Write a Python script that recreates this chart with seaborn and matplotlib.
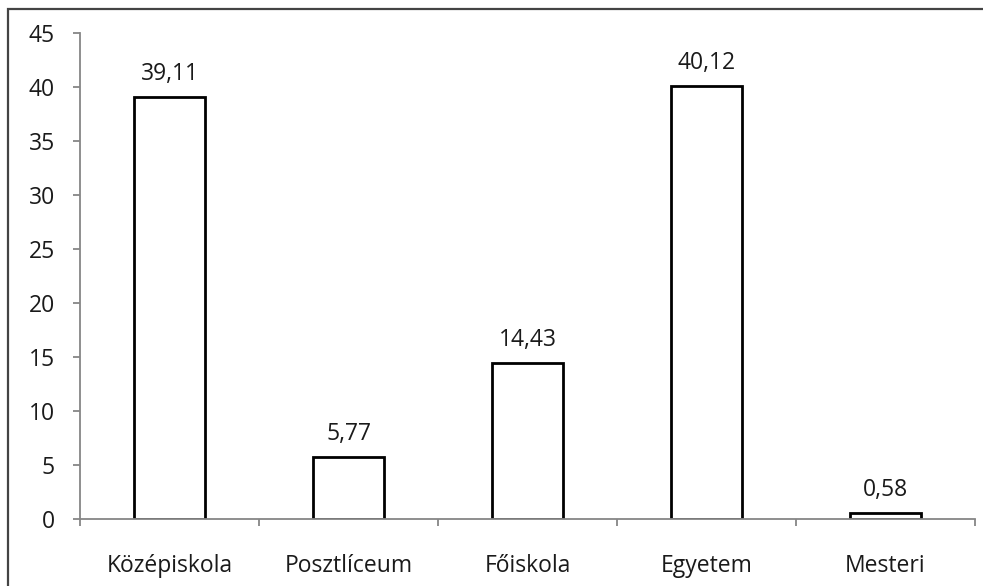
import matplotlib
matplotlib.use("Agg")
import matplotlib.pyplot as plt
import seaborn as sns
import pandas as pd
from matplotlib.patches import Rectangle

categories = ["Középiskola", "Posztlíceum", "Főiskola", "Egyetem", "Mesteri"]
values = [39.11, 5.77, 14.43, 40.12, 0.58]
value_labels = ["39,11", "5,77", "14,43", "40,12", "0,58"]
yticks = [0, 5, 10, 15, 20, 25, 30, 35, 40, 45]

sns.set_style("white")
plt.rcParams['font.family'] = ['Open Sans', 'DejaVu Sans']

W, H = 983, 586
fig = plt.figure(figsize=(W / 100, H / 100), dpi=100)
ax = fig.add_axes([80 / W, 1 - 519 / H, (975 - 80) / W, (519 - 33) / H])

df = pd.DataFrame({"cat": categories, "val": values})
sns.barplot(data=df, x="cat", y="val", ax=ax, color="white", edgecolor="black",
            linewidth=2, width=0.4, saturation=1)

FS = 16.5
ax.set_xlim(-0.5, len(categories) - 0.5)
ax.set_ylim(0, 45)
ax.set_yticks(yticks)
ax.set_yticklabels([str(t) for t in yticks], fontsize=FS, color="#1a1a1a")
ax.set_xticks(range(len(categories)))
ax.set_xticklabels(categories, fontsize=FS, color="#1a1a1a")
ax.set_xlabel("")
ax.set_ylabel("")

for s in ["top", "right"]:
    ax.spines[s].set_visible(False)
for s in ["left", "bottom"]:
    ax.spines[s].set_color("#868686")
    ax.spines[s].set_linewidth(1.3)

ax.tick_params(axis="y", which="major", left=True, length=5, width=1.3, color="#868686", pad=13)
ax.tick_params(axis="x", which="major", bottom=False, length=5, pad=20)
# category boundary ticks on x-axis
ax.set_xticks([i - 0.5 for i in range(len(categories) + 1)], minor=True)
ax.tick_params(axis="x", which="minor", bottom=True, length=5, width=1.3, color="#868686")

for i, (v, lab) in enumerate(zip(values, value_labels)):
    ax.annotate(lab, (i, v), xytext=(0, 8), textcoords="offset points",
                ha="center", va="bottom", fontsize=FS, color="#1a1a1a")

fig.patches.append(Rectangle((8 / W, -0.05), 1.1, 1 - 9 / H + 0.05, transform=fig.transFigure,
                             fill=False, edgecolor="#444444", linewidth=1.6))

fig.savefig("out.png", dpi=100)
